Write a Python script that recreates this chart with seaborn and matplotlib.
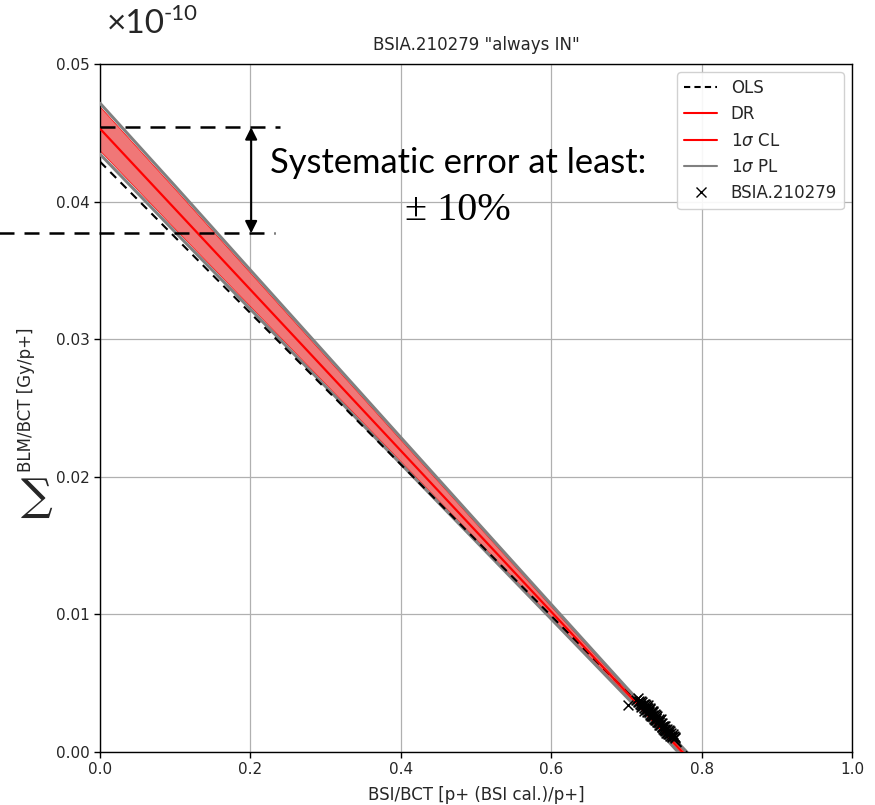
import matplotlib
matplotlib.use("Agg")
import matplotlib.pyplot as plt
from matplotlib.lines import Line2D
import seaborn as sns
import pandas as pd

# ---------------- data ----------------
line_x = [0.0, 1.0]
dr_y = [0.0453, 0.0453 - 0.0585]        # DR fit line end points
ols_y = [0.0429, 0.0429 - 0.0550]       # OLS fit line end points

band_x = [0.0, 0.1, 0.2, 0.3, 0.4, 0.5, 0.6, 0.7, 0.75, 0.8]
cl_upper = [0.04690, 0.04090, 0.03482, 0.02875, 0.02268, 0.01662, 0.01057, 0.00455, 0.00162, -0.00128]
cl_lower = [0.04370, 0.03800, 0.03238, 0.02675, 0.02112, 0.01548, 0.00983, 0.00415, 0.00126, -0.00172]
pl_upper = [0.04715, 0.04112, 0.03502, 0.02894, 0.02286, 0.01679, 0.01073, 0.00469, 0.00176, -0.00114]
pl_lower = [0.04345, 0.03778, 0.03218, 0.02656, 0.02094, 0.01531, 0.00967, 0.00401, 0.00112, -0.00186]

pts_x = [0.702, 0.713, 0.715, 0.716, 0.718, 0.719, 0.720, 0.721, 0.722, 0.724, 0.725,
         0.726, 0.727, 0.728, 0.729, 0.730, 0.731, 0.732, 0.733, 0.734, 0.735, 0.736,
         0.737, 0.738, 0.739, 0.740, 0.741, 0.742, 0.743, 0.744, 0.745, 0.746, 0.747,
         0.748, 0.749, 0.750, 0.751, 0.752, 0.753, 0.754, 0.755, 0.757, 0.758, 0.760,
         0.762, 0.764, 0.765,
         0.717, 0.719, 0.723, 0.724, 0.726, 0.728, 0.730, 0.731, 0.733, 0.735, 0.736,
         0.738, 0.740, 0.741, 0.743, 0.745, 0.746, 0.748, 0.750, 0.751, 0.753, 0.755,
         0.756, 0.758, 0.759, 0.761, 0.763, 0.744, 0.739, 0.734, 0.729, 0.749, 0.754]
pts_y = [0.0034, 0.0038, 0.0036, 0.0039, 0.0035, 0.0037, 0.0033, 0.0036, 0.0034, 0.0032, 0.0035,
         0.0031, 0.0033, 0.0029, 0.0032, 0.0030, 0.0027, 0.0031, 0.0028, 0.0026, 0.0029, 0.0027,
         0.0024, 0.0028, 0.0025, 0.0023, 0.0026, 0.0022, 0.0024, 0.0020, 0.0023, 0.0021, 0.0018,
         0.0021, 0.0019, 0.0016, 0.0019, 0.0017, 0.0014, 0.0017, 0.0015, 0.0013, 0.0015, 0.0012,
         0.0013, 0.0011, 0.0010,
         0.0037, 0.0034, 0.0035, 0.0030, 0.0034, 0.0031, 0.0029, 0.0032, 0.0026, 0.0026, 0.0030,
         0.0023, 0.0025, 0.0022, 0.0022, 0.0020, 0.0024, 0.0018, 0.0019, 0.0015, 0.0016, 0.0013,
         0.0016, 0.0012, 0.0014, 0.0011, 0.0012, 0.0022, 0.0027, 0.0030, 0.0034, 0.0017, 0.0014]

x_ticks = [0.0, 0.2, 0.4, 0.6, 0.8, 1.0]
y_ticks = [0.00, 0.01, 0.02, 0.03, 0.04, 0.05]

upper_level = 0.0454
lower_level = 0.0377

# ---------------- style ----------------
sns.set_theme(style="ticks")
plt.rcParams["font.family"] = ["DejaVu Sans"]

fig = plt.figure(figsize=(8.75, 8.05), dpi=100)
ax = fig.add_axes([0.1143, 0.0658, 0.8594, 0.8547])

ax.grid(True, color="#b0b0b0", linewidth=0.9)
ax.set_axisbelow(True)

# band
ax.fill_between(band_x, cl_lower, cl_upper, color="#f07070", alpha=0.95, linewidth=0, zorder=2)
sns.lineplot(x=band_x, y=cl_upper, color="red", linewidth=0.5, ax=ax, zorder=2.5)
sns.lineplot(x=band_x, y=cl_lower, color="red", linewidth=0.5, ax=ax, zorder=2.5)
sns.lineplot(x=band_x, y=pl_upper, color="gray", linewidth=2.2, ax=ax, zorder=3)
sns.lineplot(x=band_x, y=pl_lower, color="gray", linewidth=2.2, ax=ax, zorder=3)

df_lines = pd.DataFrame({"x": line_x, "dr": dr_y, "ols": ols_y})
sns.lineplot(data=df_lines, x="x", y="ols", color="black", linestyle=(0, (4, 3)), linewidth=1.5,
             ax=ax, zorder=4)
sns.lineplot(data=df_lines, x="x", y="dr", color="red", linewidth=1.6, ax=ax, zorder=5)

sns.scatterplot(x=pts_x, y=pts_y, marker="x", color="black", s=50, linewidth=1.1, ax=ax,
                zorder=6)

ax.set_xlim(0, 1)
ax.set_ylim(0, 0.05)
ax.set_xticks(x_ticks)
ax.set_yticks(y_ticks)
ax.set_xticklabels([f"{v:.1f}" for v in x_ticks])
ax.set_yticklabels([f"{v:.2f}" for v in y_ticks])
ax.tick_params(labelsize=11, length=4, width=1, color="black")
for s in ax.spines.values():
    s.set_visible(True)
    s.set_color("black")
    s.set_linewidth(1.0)

ax.set_title('BSIA.210279 "always IN"', fontsize=12, pad=10)
ax.set_xlabel("BSI/BCT [p+ (BSI cal.)/p+]", fontsize=12, labelpad=6)
ax.set_ylabel("BLM/BCT [Gy/p+]", fontsize=12)
ax.yaxis.set_label_coords(-0.086, 0.512)

# legend
handles = [
    Line2D([], [], color="black", linestyle=(0, (3, 2)), linewidth=1.5),
    Line2D([], [], color="red", linewidth=1.5),
    Line2D([], [], color="red", linewidth=1.5),
    Line2D([], [], color="gray", linewidth=1.5),
    Line2D([], [], color="black", marker="x", linestyle="none", markersize=7),
]
labels = ["OLS", "DR", "1$\\sigma$ CL", "1$\\sigma$ PL", "BSIA.210279"]
ax.legend(handles, labels, loc="upper right", fontsize=12,
          frameon=True, framealpha=0.9, edgecolor="#cccccc", fancybox=True)

# annotation: dashed levels and arrow
ax.plot([0.0, 0.239], [upper_level, upper_level], color="black", linestyle=(0, (6, 4)),
        linewidth=1.8, clip_on=False, zorder=7)
ax.plot([-0.135, 0.233], [lower_level, lower_level], color="black", linestyle=(0, (6, 4)),
        linewidth=1.8, clip_on=False, zorder=7)
ax.annotate("", xy=(0.201, upper_level), xytext=(0.201, lower_level),
            arrowprops=dict(arrowstyle="<|-|>", color="black", lw=1.5,
                            mutation_scale=18, shrinkA=0, shrinkB=0), zorder=8)

fig.text(270 / 875, 1 - 173 / 805, "Systematic error at least:", fontsize=24.8,
         family=["Lato", "DejaVu Sans"], color="black", ha="left", va="baseline")
fig.text(458 / 875, 1 - 220 / 805, "\u00b1 10%", fontsize=29,
         family=["Liberation Serif", "DejaVu Serif"], color="black", ha="center", va="baseline")

fig.text(107 / 875, 1 - 33 / 805, "\u00d710", fontsize=24,
         family=["Lato", "DejaVu Sans"], ha="left", va="baseline")
fig.text(164 / 875, 1 - 20 / 805, "-10", fontsize=16,
         family=["Lato", "DejaVu Sans"], ha="left", va="baseline")
fig.text(37 / 875, 1 - 510 / 805, "\u2211", fontsize=32,
         family=["DejaVu Serif"], ha="center", va="baseline")

fig.savefig("out.png", dpi=100)
